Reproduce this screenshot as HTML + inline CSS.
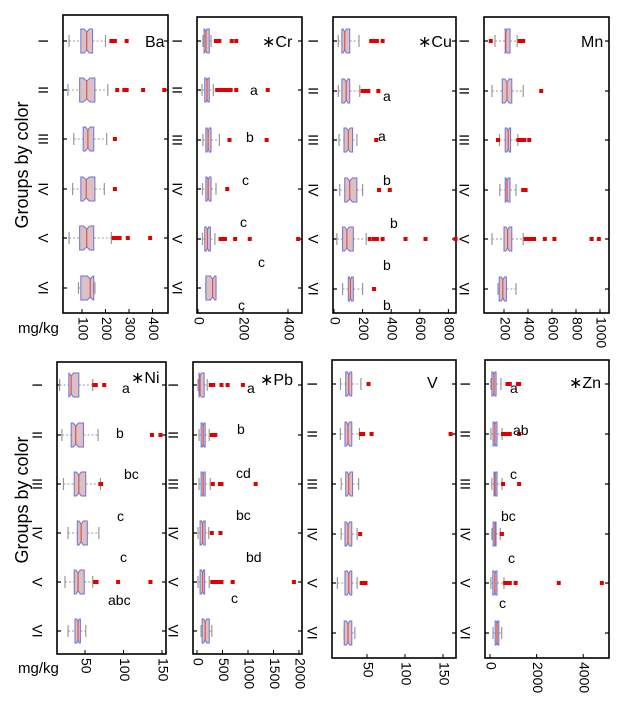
<!DOCTYPE html>
<html><head><meta charset="utf-8"><style>
html,body{margin:0;padding:0;background:#fff;}
svg{display:block;font-family:"Liberation Sans",sans-serif;}
</style></head><body>
<svg id="fig" width="633" height="715" viewBox="0 0 633 715" xmlns="http://www.w3.org/2000/svg">
<text x="0" y="0" font-size="18" text-anchor="middle" transform="translate(28,165) rotate(-90)">Groups by color</text>
<text x="0" y="0" font-size="18" text-anchor="middle" transform="translate(28,500) rotate(-90)">Groups by color</text>
<text x="18" y="333" font-size="15">mg/kg</text>
<text x="18" y="673" font-size="15">mg/kg</text>
</svg>
<script>
const groups=["I","II","III","IV","V","VI"];
// stats per group: [whiskerLow, q1, median, q3, whiskerHigh]
const baStats=[[45,95,120,145,200],[40,90,120,155,210],[65,105,125,150,205],[60,95,118,155,195],[45,90,120,150,225],[85,95,135,150,155]];
const baOut=[[225,230,235,240,290],[250,280,290,360,450],[240],[240],[235,240,250,260,295,390],[]];
const baTicks=[100,200,300,400];
const crStats=[[22,27,35,50,58],[18,30,40,50,68],[22,35,45,58,95],[20,35,45,58,80],[20,30,42,55,75],[35,35,65,80,80]];
const crOut=[[80,85,90,95,150,170],[85,95,105,115,125,135,145,170,310],[140,305],[130],[100,105,110,115,120,165,230,445],[]];
const crTicks=[0,200,400];
const cuStats=[[30,55,75,110,175],[30,55,85,110,180],[35,70,100,130,160],[40,75,110,160,200],[20,60,90,135,225],[60,100,115,135,200]];
const cuOut=[[260,280,300,340],[200,210,220,230,240,310],[295],[315,390],[250,280,290,300,340,500,640,850],[280]];
const cuTicks=[0,200,400,600,800];
const mnStats=[[125,210,215,250,310],[100,185,225,265,360],[163,210,235,255,315],[165,210,225,250,300],[100,200,230,265,360],[150,160,190,220,300]];
const mnOut=[[90,330,340,350,360],[510],[150,320,330,340,350,370,410],[360,380],[380,390,400,410,430,450,540,620,930,990],[]];
const mnTicks=[200,400,600,800,1000];
const niStats=[[17,29,32,42,60],[20,32,38,48,67],[22,36,42,51,70],[28,40,45,53,68],[24,36,41,49,60],[28,37,41,44,51]];
const niOut=[[62,63,64,75],[137,148],[70,71],[],[63,64,65,93,135],[]];
const niTicks=[50,100,150];
const pbStats=[[20,40,60,140,200],[40,80,120,160,240],[40,80,120,160,260],[20,60,110,160,230],[20,60,110,150,240],[80,100,160,240,290]];
const pbOut=[[270,280,290,300,310,320,480,600,900],[290,310,320,340,360],[310,450,480,1150],[290,460],[300,320,340,360,380,400,420,450,480,700,1900],[]];
const pbTicks=[0,500,1000,1500,2000];
const vStats=[[15,22,26,30,42],[15,21,25,30,40],[16,22,26,31,39],[16,21,25,30,37],[11,21,26,30,37],[20,20,25,30,34]];
const vOut=[[52],[42,43,44,45,56,160],[],[41],[43,44,45,46,48],[]];
const vTicks=[50,100,150];
const znStats=[[40,80,170,260,470],[40,130,210,300,520],[80,170,220,300,520],[80,130,210,260,440],[40,120,210,300,600],[130,220,300,380,500]];
const znOut=[[750,800,850,1200,1250],[560,700,750,800,850,1250],[560,1250],[500,510],[650,700,750,800,850,1100,2950,4800],[]];
const znTicks=[0,2000,4000];

const NS="http://www.w3.org/2000/svg";
const svg=document.getElementById('fig');
function mk(tag,attrs,parent){const e=document.createElementNS(NS,tag);for(const k in attrs)e.setAttribute(k,attrs[k]);(parent||svg).appendChild(e);return e;}

const panels=[
 {name:"ba",title:"Ba",stats:baStats,out:baOut,ticks:baTicks,L:63,R:168,T:15,B:313,x0:58.5,k:0.235,rows:[41,90,139,189,238,288],tx:145,ty:47,letters:[]},
 {name:"cr",title:"\u2217Cr",stats:crStats,out:crOut,ticks:crTicks,L:197,R:302,T:17,B:313,x0:198,k:0.225,rows:[41,90,140,189,239,288],tx:262,ty:47,letters:[["a",250,95],["b",246,142],["c",242,185],["c",240,227],["c",258,267],["c",238,310]]},
 {name:"cu",title:"\u2217Cu",stats:cuStats,out:cuOut,ticks:cuTicks,L:333,R:456,T:17,B:313,x0:334,k:0.143,rows:[41,91,140,190,239,289],tx:418,ty:47,letters:[["a",383,101],["a",378,141],["b",383,185],["b",390,228],["b",383,270],["b",383,310]]},
 {name:"mn",title:"Mn",stats:mnStats,out:mnOut,ticks:mnTicks,L:484,R:609,T:17,B:313,x0:480,k:0.12,rows:[41,91,140,190,239,289],tx:581,ty:47,letters:[]},
 {name:"ni",title:"\u2217Ni",stats:niStats,out:niOut,ticks:niTicks,L:57,R:166,T:362,B:654,x0:46.5,k:0.77,rows:[385,435,484,533,582,631],tx:131,ty:383,letters:[["a",122,393],["b",116,438],["bc",124,479],["c",117,521],["c",120,562],["abc",108,605]]},
 {name:"pb",title:"\u2217Pb",stats:pbStats,out:pbOut,ticks:pbTicks,L:193,R:302,T:362,B:654,x0:197,k:0.051,rows:[385,435,484,533,582,631],tx:260,ty:385,letters:[["a",247,393],["b",237,434],["cd",236,478],["bc",236,520],["bd",246,562],["c",231,603]]},
 {name:"v",title:"V",stats:vStats,out:vOut,ticks:vTicks,L:332,R:456,T:360,B:658,x0:329,k:0.76,rows:[384,434,484,534,583,633],tx:427,ty:388,letters:[]},
 {name:"zn",title:"\u2217Zn",stats:znStats,out:znOut,ticks:znTicks,L:485,R:609,T:360,B:658,x0:490,k:0.0233,rows:[384,434,484,534,583,633],tx:569,ty:388,letters:[["a",510,393],["ab",513,435],["c",510,479],["bc",501,521],["c",508,563],["c",499,608]]}
];

panels.forEach(p=>{
  const g=mk('g',{});
  
  
  const xs=v=>p.x0+v*p.k;
  const fr=mk('rect',{x:p.L,y:p.T,width:p.R-p.L,height:p.B-p.T,fill:'none',stroke:'#000','stroke-width':1.6},g);
  
  
  p.ticks.forEach(t=>{
    const x=xs(t);
    mk('line',{x1:x,y1:p.B,x2:x,y2:p.B-4,stroke:'#000','stroke-width':1},g);
    const tl=mk('text',{x:0,y:0,'font-size':14,'dominant-baseline':'middle',transform:`translate(${x},${p.B+4}) rotate(90)`},g);
    tl.textContent=t;
    
    
  });
  p.stats.forEach((s,i)=>{
    const y=p.rows[i];
    mk('line',{x1:p.L,y1:y,x2:p.L+4,y2:y,stroke:'#000','stroke-width':1.2},g);
    mk('line',{x1:p.R,y1:y,x2:p.R-4,y2:y,stroke:'#000','stroke-width':1.2},g);
    const gl=mk('text',{x:0,y:0,'font-size':14,'text-anchor':'middle','dominant-baseline':'middle',transform:`translate(${p.L-21},${y}) rotate(90)`},g);
    gl.textContent=groups[i];
    
    
    const [lo,q1,md,q3,hi]=s;
    const bx=mk('g',{},g);
    
    
    mk('line',{x1:xs(lo),y1:y,x2:xs(q1),y2:y,stroke:'#999','stroke-width':1,'stroke-dasharray':'2,2'},bx);
    mk('line',{x1:xs(q3),y1:y,x2:xs(hi),y2:y,stroke:'#999','stroke-width':1,'stroke-dasharray':'2,2'},bx);
    mk('line',{x1:xs(lo),y1:y-6,x2:xs(lo),y2:y+6,stroke:'#999','stroke-width':1.2},bx);
    mk('line',{x1:xs(hi),y1:y-6,x2:xs(hi),y2:y+6,stroke:'#999','stroke-width':1.2},bx);
    const h=12,iq=q3-q1,nl=xs(md-0.22*iq),nh=xs(md+0.22*iq);
    const pts=[[xs(q1),y-h],[nl,y-h],[xs(md),y-h+3],[nh,y-h],[xs(q3),y-h],[xs(q3),y+h],[nh,y+h],[xs(md),y+h-3],[nl,y+h],[xs(q1),y+h]];
    mk('polygon',{points:pts.map(a=>a.join(',')).join(' '),fill:'#d9c1c4',stroke:'#7272d0','stroke-width':1},bx);
    mk('line',{x1:xs(md),y1:y-h+3,x2:xs(md),y2:y+h-3,stroke:'#e05050','stroke-width':1.2},bx);
    p.out[i].forEach(o=>{
      const r=mk('rect',{x:xs(o)-2,y:y-2,width:4,height:4,fill:'#e00000'},bx);
      
      
    });
  });
  const tt=mk('text',{x:p.tx,y:p.ty,'font-size':16},g);
  tt.textContent=p.title;
  
  
  p.letters.forEach(l=>{
    const lt=mk('text',{x:l[1],y:l[2],'font-size':14},g);
    lt.textContent=l[0];
    
    
  });
});
</script>
</body></html>
